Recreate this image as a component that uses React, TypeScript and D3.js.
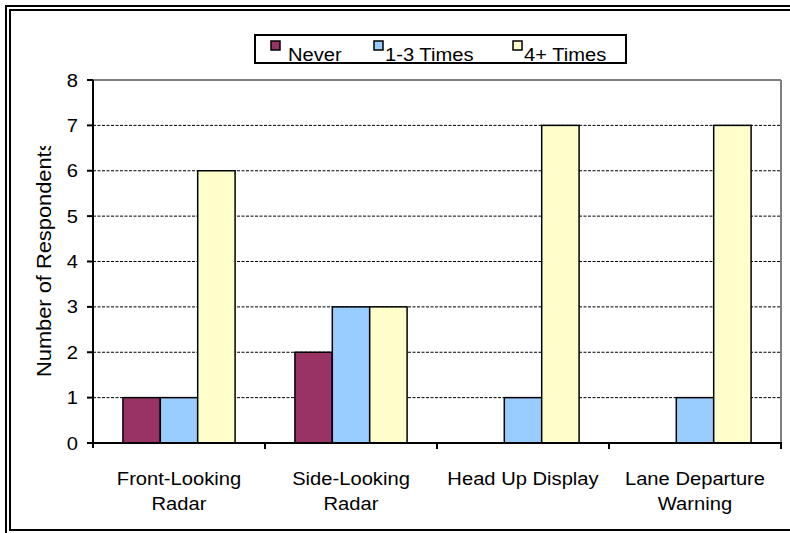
import React, { useEffect } from "react";
import * as d3 from "d3";

const categories = ["Front-Looking Radar", "Side-Looking Radar", "Head Up Display", "Lane Departure Warning"];
const categoryLines = [["Front-Looking", "Radar"], ["Side-Looking", "Radar"], ["Head Up Display"], ["Lane Departure", "Warning"]];
const seriesNames = ["Never", "1-3 Times", "4+ Times"];
const seriesColors = ["#993366", "#99CCFF", "#FFFFCC"];
const neverValues = [1, 2, 0, 0];
const times13Values = [1, 3, 1, 1];
const times4Values = [6, 3, 7, 7];
const yTicks = [0, 1, 2, 3, 4, 5, 6, 7, 8];
const yTitle = "Number of Respondents";

const FONT = "'Liberation Sans', Arial, sans-serif";
const FS = 18.5;
const SX = 1.09;

export default function App() {
  useEffect(() => {
    document.body.style.margin = "0";
  }, []);

  const W = 790, H = 533;
  const px0 = 93, px1 = 781, pyTop = 80, py0 = 443;

  const x0 = d3.scaleBand<string>().domain(categories).range([px0, px1]).paddingInner(0).paddingOuter(0);
  const x1 = d3.scaleBand<string>().domain(seriesNames).range([0, x0.bandwidth()]).paddingInner(0).paddingOuter(0.8);
  const y = d3.scaleLinear().domain([0, 8]).range([py0, pyTop]);

  const seriesValues = [neverValues, times13Values, times4Values];

  const legendItems = [
    { mx: 271, tx: 288 },
    { mx: 374, tx: 385 },
    { mx: 513, tx: 524 },
  ];

  return (
    <svg width={W} height={H} style={{ position: "absolute", left: 0, top: 0, background: "#fff" }} fontFamily={FONT}>
      <defs>
        <clipPath id="ytclip">
          <rect x={0} y={146} width={90} height={300} />
        </clipPath>
      </defs>
      <rect x={0} y={0} width={W} height={H} fill="#fff" />
      {/* outer double frame */}
      <rect x={6} y={6} width={W + 20} height={H + 20} fill="none" stroke="#000" strokeWidth={2} />
      <rect x={10} y={10} width={W + 20} height={520} fill="none" stroke="#000" strokeWidth={2} />

      {/* gridlines */}
      {yTicks.filter(t => t > 0 && t < 8).map(t => (
        <line key={t} x1={px0} x2={px1} y1={y(t)} y2={y(t)} stroke="#000" strokeWidth={1} strokeDasharray="3,1.5" />
      ))}
      <line x1={px0} x2={px1} y1={y(8)} y2={y(8)} stroke="#808080" strokeWidth={2} />
      <line x1={px1} x2={px1} y1={y(8)} y2={py0} stroke="#808080" strokeWidth={2} />

      {/* bars */}
      {categories.map((c, ci) => (
        <g key={c} transform={`translate(${x0(c)},0)`}>
          {seriesNames.map((s, si) => {
            const v = seriesValues[si][ci];
            if (v <= 0) return null;
            return (
              <rect key={s} x={x1(s)} y={y(v)} width={x1.bandwidth()} height={py0 - y(v)}
                fill={seriesColors[si]} stroke="#000" strokeWidth={1.5} />
            );
          })}
        </g>
      ))}

      {/* axes */}
      <line x1={px0} x2={px0} y1={y(8)} y2={py0 + 5} stroke="#000" strokeWidth={2} />
      <line x1={px0 - 6} x2={px1 + 1} y1={py0} y2={py0} stroke="#000" strokeWidth={2} />
      {yTicks.map(t => (
        <line key={t} x1={px0 - 6} x2={px0} y1={y(t)} y2={y(t)} stroke="#000" strokeWidth={2} />
      ))}
      {categories.map((c) => (
        <line key={c} x1={(x0(c) as number) + x0.bandwidth()} x2={(x0(c) as number) + x0.bandwidth()} y1={py0} y2={py0 + 6} stroke="#000" strokeWidth={2} />
      ))}

      {/* y tick labels */}
      {yTicks.map(t => (
        <text key={t} transform={`translate(78,${y(t) + 6.5}) scale(${SX},1)`} textAnchor="end" fontSize={FS} fill="#000">{t}</text>
      ))}

      {/* x labels */}
      {categories.map((c, i) => {
        const cx = (x0(c) as number) + x0.bandwidth() / 2;
        return categoryLines[i].map((ln, li) => (
          <text key={c + li} transform={`translate(${cx},${485 + li * 25}) scale(${SX},1)`} textAnchor="middle" fontSize={FS} fill="#000">{ln}</text>
        ));
      })}

      {/* y title */}
      <g clipPath="url(#ytclip)">
        <text transform={`translate(51,377) rotate(-90) scale(1.12,1)`} textAnchor="start" fontSize={19.5} fill="#000">{yTitle}</text>
      </g>

      {/* legend */}
      <rect x={255} y={35} width={371} height={28} fill="#fff" stroke="#000" strokeWidth={2} />
      {seriesNames.map((s, i) => (
        <g key={s}>
          <rect x={legendItems[i].mx} y={41} width={9} height={9} fill={seriesColors[i]} stroke="#000" strokeWidth={1.5} />
          <text transform={`translate(${legendItems[i].tx},61) scale(${SX},1)`} fontSize={FS} fill="#000">{s}</text>
        </g>
      ))}
    </svg>
  );
}
